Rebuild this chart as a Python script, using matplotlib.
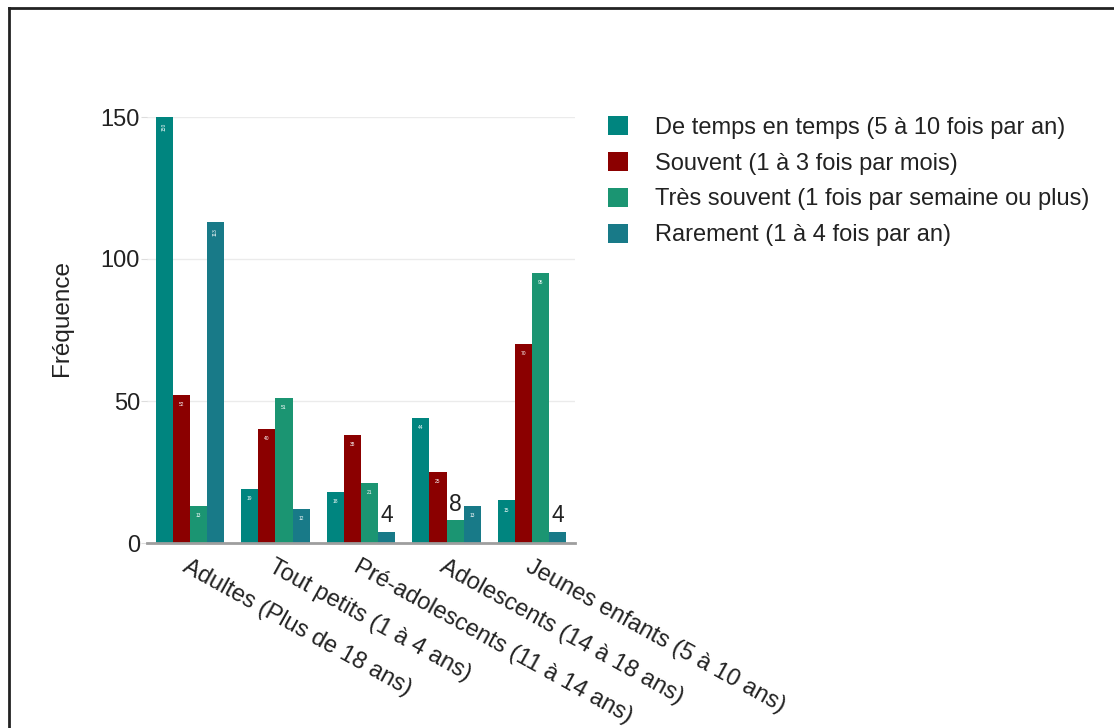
import matplotlib
matplotlib.use("Agg")
import matplotlib.pyplot as plt
from matplotlib.lines import Line2D
from matplotlib.patches import Patch
import numpy as np

plt.rcParams['font.family'] = ['Liberation Sans', 'DejaVu Sans']

categories = [
    "Adultes (Plus de 18 ans)",
    "Tout petits (1 à 4 ans)",
    "Pré-adolescents (11 à 14 ans)",
    "Adolescents (14 à 18 ans)",
    "Jeunes enfants (5 à 10 ans)",
]
series_names = [
    "De temps en temps (5 à 10 fois par an)",
    "Souvent (1 à 3 fois par mois)",
    "Très souvent (1 fois par semaine ou plus)",
    "Rarement (1 à 4 fois par an)",
]
de_temps_en_temps = [150, 19, 18, 44, 15]
souvent = [52, 40, 38, 25, 70]
tres_souvent = [13, 51, 21, 8, 95]
rarement = [113, 12, 4, 13, 4]
series_values = [de_temps_en_temps, souvent, tres_souvent, rarement]
colors = ["#00857f", "#8b0000", "#1b9572", "#187a88"]
y_ticks = [0, 50, 100, 150]

W, H = 1114, 728
fig = plt.figure(figsize=(W / 100, H / 100), dpi=100)

# Plot area in pixel coordinates
left, right, top, bottom = 147, 575, 117, 543
ax = fig.add_axes([left / W, 1 - bottom / H, (right - left) / W, (bottom - top) / H])

x = np.arange(len(categories))
bw = 0.2
for i, (vals, col) in enumerate(zip(series_values, colors)):
    pos = x - 0.3 + i * bw
    ax.bar(pos, vals, width=bw, color=col, edgecolor="none", zorder=3)
    for p, v in zip(pos, vals):
        if v < 10:
            ax.text(p, v + 1.5, str(v), ha="center", va="bottom",
                    fontsize=16.5, color="#222222", zorder=4)
        elif v >= 100:
            ax.text(p, v - 2, str(v), ha="center", va="top", rotation=90,
                    fontsize=3.5, color="white", zorder=4)
        else:
            ax.text(p, v - 2.5, str(v), ha="center", va="top",
                    fontsize=3.5, color="white", zorder=4)

ax.set_xlim(-0.5, len(categories) - 0.5)
ax.set_ylim(0, 150)
ax.set_yticks(y_ticks)
ax.set_yticklabels([str(t) for t in y_ticks], fontsize=17, color="#222222")
ax.yaxis.grid(True, color="#ebebeb", linewidth=1, zorder=0)
ax.tick_params(axis="y", length=4, color="#dddddd", pad=1)
ax.tick_params(axis="x", length=0, pad=9)
ax.set_xticks(x)
ax.set_xticklabels(categories, rotation=-29, ha="left", va="top",
                   rotation_mode="anchor", fontsize=17, color="#222222")
for s in ["top", "right", "left"]:
    ax.spines[s].set_visible(False)
ax.spines["bottom"].set_color("#9e9e9e")
ax.spines["bottom"].set_linewidth(2)
ax.spines["bottom"].set_zorder(5)

fig.text(62 / W, 1 - 318 / H, "Fréquence", rotation=90, ha="center", va="center",
         fontsize=17.5, color="#222222")

handles = [Patch(facecolor=c, edgecolor="none") for c in colors]
fig.legend(handles, series_names, loc="upper left",
           bbox_to_anchor=(587 / W, 1 - 95 / H), frameon=False, fontsize=17,
           handlelength=0.85, handleheight=0.85, handletextpad=1.15,
           labelspacing=0.56, labelcolor="#222222")

# Outer frame (left and top edges)
fig.add_artist(Line2D([9 / W, 9 / W], [0, 1 - 8 / H], color="#222222",
                      linewidth=2, transform=fig.transFigure))
fig.add_artist(Line2D([9 / W, 1], [1 - 8 / H, 1 - 8 / H], color="#222222",
                      linewidth=2, transform=fig.transFigure))

fig.savefig("out.png", dpi=100)
